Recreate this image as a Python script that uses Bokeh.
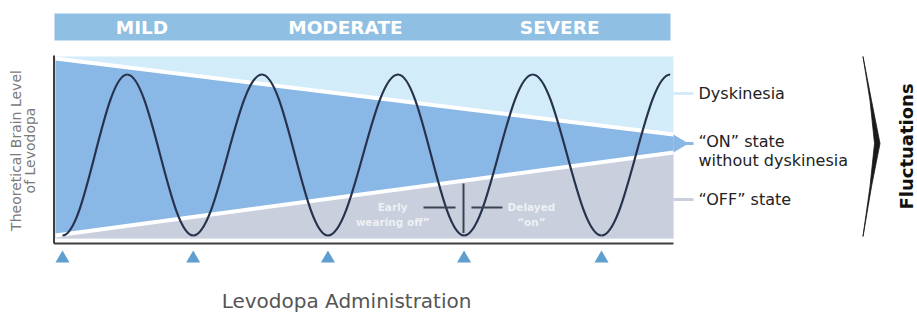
import numpy as np
from bokeh.plotting import figure
from bokeh.models import Range1d
from bokeh.core.properties import value
from bokeh.embed import file_html
from bokeh.resources import INLINE

# ---------------- data ----------------
# Theoretical brain level of levodopa: successive troughs / peaks (time in dosing intervals, level in %)
extreme_times = [0.0, 0.48, 0.97, 1.48, 1.97, 2.49, 2.98, 3.49, 4.0, 4.51]
extreme_levels = [0, 100, 0, 100, 0, 100, 0, 100, 0, 100]
# Levodopa administrations (triangles)
dose_times = [0.0, 0.97, 1.97, 2.98, 4.0]
# Disease stages (banner)
stages = ["MILD", "MODERATE", "SEVERE"]
stage_centers = [0.59, 2.10, 3.69]
# Therapeutic window thresholds over the course of the disease
threshold_times = [-0.052, 4.534]
dyskinesia_threshold = [109.9, 62.7]
off_threshold = [0.0, 51.6]
# Right-hand state labels
state_labels = ["Dyskinesia", "\u201cON\u201d state", "without dyskinesia", "\u201cOFF\u201d state"]
state_levels = [88.2, 58.4, 46.4, 22.4]

# ---------------- figure ----------------
p = figure(width=917, height=315,
           x_range=Range1d(-0.46011, 6.34508), y_range=Range1d(-49.689, 145.963),
           x_axis_location=None, y_axis_location=None,
           toolbar_location=None, output_backend="svg", min_border=0)
p.grid.visible = False
p.outline_line_color = None
p.background_fill_color = "white"

LIGHT = "#d3ecfa"
BLUE = "#89b7e6"
GRAY = "#c9cfdd"
BANNER = "#8fbfe2"
FONT = value("DejaVu Sans")

t0, t1 = threshold_times
# banner
p.quad(left=-0.0594, right=4.512, bottom=121.1, top=137.9, fill_color=BANNER, line_color=None)
p.text(x=stage_centers, y=[129.4] * len(stages), text=stages, text_color="white",
       text_font=FONT, text_font_style="bold", text_font_size="18.5px",
       text_align="center", text_baseline="middle")

# dyskinesia area (background)
p.quad(left=t0, right=t1, bottom=-1.86, top=111.2, fill_color=LIGHT, line_color=None)
# "ON" without dyskinesia wedge
p.patch(x=[t0, t1, t1, t0], y=[dyskinesia_threshold[0], dyskinesia_threshold[1], off_threshold[1], off_threshold[0]],
        fill_color=BLUE, line_color=None)
p.patch(x=[t1, 4.646, t1], y=[dyskinesia_threshold[1], 57.1, off_threshold[1]], fill_color=BLUE, line_color=None)
# OFF area
p.patch(x=[t0, t1, t1, t0], y=[off_threshold[0], off_threshold[1], -1.86, -1.86], fill_color=GRAY, line_color=None)
# white threshold lines
p.line(x=threshold_times, y=dyskinesia_threshold, line_color="white", line_width=4)
p.line(x=threshold_times, y=off_threshold, line_color="white", line_width=4)

# leader lines
p.segment(x0=[t1, t1, t1], y0=[88.2, 57.1, 22.4], x1=[4.683, 4.683, 4.683], y1=[88.2, 57.1, 22.4],
          line_color=[LIGHT, BLUE, GRAY], line_width=3)

# axes lines
p.segment(x0=[-0.063, -0.063], y0=[111.8, -4.97], x1=[-0.063, 4.534], y1=[-4.97, -4.97],
          line_color="#3d3d3d", line_width=2)

# levodopa level curve (cubic bezier half-waves between extremes)
k = 0.3634
xs = np.array(extreme_times, dtype=float)
ys = np.array(extreme_levels, dtype=float)
dx = xs[1:] - xs[:-1]
p.bezier(x0=xs[:-1], y0=ys[:-1], x1=xs[1:], y1=ys[1:],
         cx0=xs[:-1] + k * dx, cy0=ys[:-1], cx1=xs[1:] - k * dx, cy1=ys[1:],
         line_color="#27324c", line_width=2.2)

# early wearing off / delayed on annotation
p.segment(x0=[2.976, 2.679, 3.035], y0=[32.3, 17.4, 17.4], x1=[2.976, 2.917, 3.265], y1=[1.5, 17.4, 17.4],
          line_color="#3b4352", line_width=2)
p.text(x=[2.45, 2.45, 3.48, 3.48], y=[17.4, 8.6, 17.4, 8.6],
       text=["Early", "wearing off\u201d", "Delayed", "\u201con\u201d"],
       text_color="white", text_alpha=0.7, text_font=FONT, text_font_style="bold",
       text_font_size="10.5px", text_align="center", text_baseline="middle")

# dose triangles
p.scatter(x=dose_times, y=[-14.3] * len(dose_times), marker="triangle", size=14,
          fill_color="#5f9fcf", line_color=None)

# state labels
p.text(x=[4.72] * len(state_labels), y=state_levels, text=state_labels, text_color="#222222",
       text_font=FONT, text_font_size="16px", text_align="left", text_baseline="middle")

# bracket
p.patch(x=[5.9406, 6.0037, 6.0668, 6.0037, 5.9406, 5.9926, 6.0260, 5.9926],
        y=[111.18, 83.85, 57.14, 30.43, -0.62, 30.43, 57.14, 83.85],
        fill_color="#1a1a1a", line_color="#1a1a1a", line_width=0.8)
p.text(x=[6.263], y=[55.3], text=["Fluctuations"], angle=np.pi / 2, text_color="#111111",
       text_font=FONT, text_font_style="bold", text_font_size="18px",
       text_align="center", text_baseline="middle")

# axis titles
p.text(x=[-0.3414, -0.2375], y=[52.8, 52.8], text=["Theoretical Brain Level", "of Levodopa"],
       angle=np.pi / 2, text_color="#7a7a7a", text_font=FONT, text_font_size="14px",
       text_align="center", text_baseline="middle")
p.text(x=[2.108], y=[-40.4], text=["Levodopa Administration"], text_color="#555555",
       text_font=FONT, text_font_size="20px", text_align="center", text_baseline="middle")

open("out.html", "w").write(file_html(p, INLINE))
